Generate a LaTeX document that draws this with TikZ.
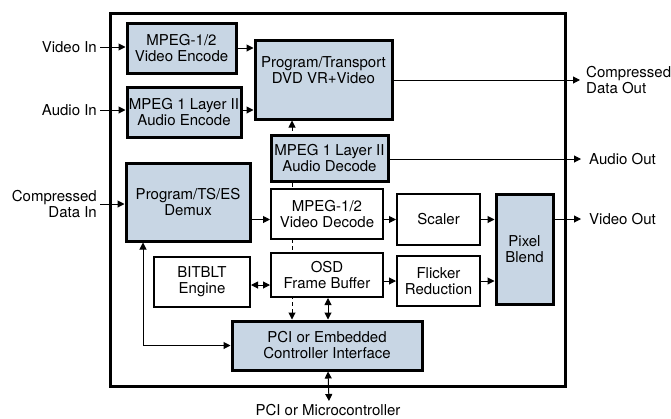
\documentclass[tikz,border=0pt]{standalone}
\usepackage{fontspec}
\setmainfont{TeX Gyre Heros}
\usetikzlibrary{arrows.meta,backgrounds}

\definecolor{boxblue}{RGB}{200,214,228}

\tikzset{
  bluebox/.style={draw, line width=3pt, fill=boxblue, inner sep=0pt, align=center},
  whitebox/.style={draw, line width=2pt, fill=white, inner sep=0pt, align=center},
  lbl/.style={inner sep=0pt},
  conn/.style={line width=1pt, -{Triangle[length=7pt,width=7pt]}},
  dconn/.style={line width=1pt, {Triangle[length=7pt,width=7pt]}-{Triangle[length=7pt,width=7pt]}},
}

\begin{document}
\begin{tikzpicture}[x=1pt, y=-1pt, font=\fontsize{15}{16}\selectfont]
  \useasboundingbox (0,0) rectangle (671,418);
  \draw[line width=3pt] (110,13) rectangle (565,386);

  \node[bluebox, minimum width=109, minimum height=50] (venc) at (181.5,48) {MPEG-1/2\\Video Encode};
  \node[bluebox, minimum width=114, minimum height=50] (aenc) at (184,112.5) {MPEG 1 Layer II\\Audio Encode};
  \node[bluebox, minimum width=137, minimum height=79] (ptr) at (323.5,79.5) {Program/Transport\\DVD VR+Video\\[3pt]};
  \node[bluebox, minimum width=117, minimum height=46] (adec) at (329.5,158) {MPEG 1 Layer II\\Audio Decode};
  \node[bluebox, minimum width=124, minimum height=78] (demux) at (188,202) {Program/TS/ES\\Demux};
  \node[whitebox, minimum width=112, minimum height=50] (vdec) at (327,214) {MPEG-1/2\\Video Decode};
  \node[whitebox, minimum width=112, minimum height=44] (osd) at (327,275) {OSD\\Frame Buffer};
  \node[whitebox, minimum width=83, minimum height=51] (scaler) at (438.5,219.5) {Scaler};
  \node[whitebox, minimum width=83, minimum height=50] (flick) at (438.5,281) {Flicker\\Reduction};
  \node[bluebox, minimum width=57, minimum height=110] (blend) at (524.5,249) {Pixel\\Blend};
  \node[whitebox, minimum width=96, minimum height=50] (bitblt) at (202,282) {BITBLT\\Engine};
  \node[bluebox, minimum width=190, minimum height=49] (pci) at (327,345.5) {PCI or Embedded\\Controller Interface};

  \node[lbl, anchor=east] (vin) at (97,47) {Video In};
  \node[lbl, anchor=east] (ain) at (97,110) {Audio In};
  \node[lbl, anchor=east, align=right] (cdin) at (97,204) {Compressed\\Data In};
  \node[lbl, anchor=west, align=left] (cdout) at (586,80) {Compressed\\Data Out};
  \node[lbl, anchor=west] (aout) at (589,159) {Audio Out};
  \node[lbl, anchor=west] (vout) at (589,219) {Video Out};
  \node[lbl, anchor=north] (mcu) at (328,404) {PCI or Microcontroller};

  \draw[conn] ([xshift=3]vin.east) -- (venc.west |- vin.east);
  \draw[conn] ([xshift=3]ain.east) -- (aenc.west |- ain.east);
  \draw[conn] ([xshift=3]cdin.east) -- (demux.west |- cdin.east);
  \draw[conn] (venc.east) -- (venc.east -| ptr.west);
  \draw[conn] (aenc.east |- ain.east) -- (ptr.west |- ain.east);
  \draw[conn] (ptr.east |- cdout.west) -- ([xshift=-6]cdout.west);
  \draw[conn] (adec.east |- aout.west) -- ([xshift=-8]aout.west);
  \draw[conn] (blend.east |- vout.west) -- ([xshift=-8]vout.west);
  \draw[conn] (demux.east |- scaler.west) -- (vdec.west |- scaler.west);
  \draw[conn] (vdec.east |- scaler.west) -- (scaler.west);
  \draw[conn] (scaler.east) -- (scaler.east -| blend.west);
  \draw[conn] (osd.east |- flick.west) -- (flick.west);
  \draw[conn] (flick.east) -- (flick.east -| blend.west);
  \draw[dconn] ([yshift=-3]bitblt.east) -- ([yshift=-3]bitblt.east -| osd.west);
  \draw[dconn] ([xshift=1]osd.south) -- ([xshift=1]pci.north);
  \draw[dconn] ([xshift=1]pci.south) -- ([xshift=1,yshift=3]mcu.north);
  \draw[dconn] ([xshift=-45]demux.south) |- (pci.west);

  \begin{scope}[on background layer]
    \draw[dconn, dash pattern=on 4pt off 3pt] ([xshift=-35]pci.north) -- ([xshift=-35]pci.north |- ptr.south);
  \end{scope}
\end{tikzpicture}
\end{document}
